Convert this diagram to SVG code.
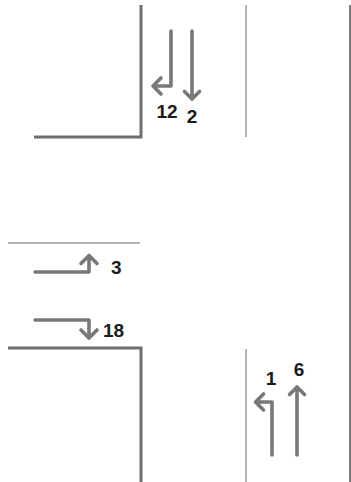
<svg xmlns="http://www.w3.org/2000/svg" width="351" height="482" viewBox="0 0 351 482">
<style>
.curb{fill:none;stroke:#6e6e6e;stroke-width:3;stroke-linecap:butt}
.thin{fill:none;stroke:#9a9a9a;stroke-width:1.5}
.edge{fill:none;stroke:#7a7a7a;stroke-width:2}
.arr{fill:none;stroke:#787878;stroke-width:3.6;stroke-linecap:round;stroke-linejoin:round}
.lbl{font-family:"Liberation Sans",Arial,sans-serif;font-weight:bold;font-size:19px;fill:#1a1a1a}
</style>
<rect width="351" height="482" fill="#ffffff"/>
<g id="roads">
<path class="curb" d="M141,5 V137 H34"/>
<path class="curb" d="M8,348 H141 V482"/>
<line class="thin" x1="246" y1="5" x2="246" y2="137"/>
<line class="thin" x1="246" y1="349" x2="246" y2="482"/>
<line class="thin" x1="8" y1="243" x2="140" y2="243"/>
<line class="edge" x1="350" y1="5" x2="350" y2="482"/>
</g>
<g id="connectors">
<g id="move-12"><path class="arr" d="M171,31 V86 H153 M161,78 L153,86 L161,94"/></g>
<g id="move-2"><path class="arr" d="M192,31 V99 M184.5,91.5 L192,99 L199.5,91.5"/></g>
<g id="move-3"><path class="arr" d="M35,272 H89 V255.5 M81,263.5 L89,255.5 L97,263.5"/></g>
<g id="move-18"><path class="arr" d="M35,320 H89 V338 M81,330 L89,338 L97,330"/></g>
<g id="move-1"><path class="arr" d="M272,455 V402 H255.5 M263.5,394 L255.5,402 L263.5,410"/></g>
<g id="move-6"><path class="arr" d="M297,455 V387 M289.5,394.5 L297,387 L304.5,394.5"/></g>
</g>
<g id="labels">
<text class="lbl" x="167" y="118" text-anchor="middle">12</text>
<text class="lbl" x="192" y="123" text-anchor="middle">2</text>
<text class="lbl" x="111" y="274">3</text>
<text class="lbl" x="103" y="337">18</text>
<text class="lbl" x="271" y="385" text-anchor="middle">1</text>
<text class="lbl" x="299" y="376" text-anchor="middle">6</text>
</g>
</svg>
